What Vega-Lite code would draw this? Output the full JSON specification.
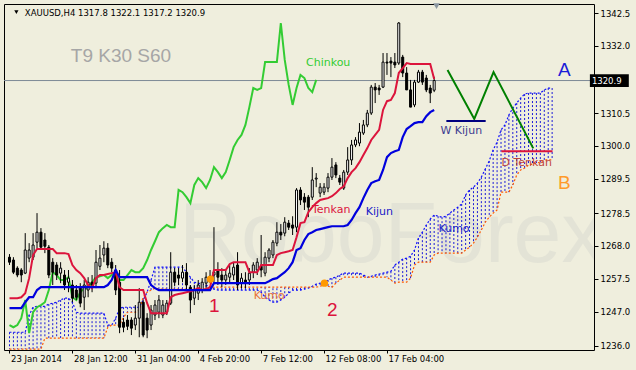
{
"$schema":"https://vega.github.io/schema/vega-lite/v6.json",
"width":590,"height":346,
"autosize":{"type":"none"},
"padding":{"left":4,"top":4,"right":42,"bottom":20},
"background":"#efeedd",
"config":{"view":{"stroke":"#000000","strokeWidth":1,"fill":"#efeedd"},"font":"DejaVu Sans","axis":{"labelOverlap":false,"labelBound":false,"labelFlush":false,"grid":false,"domain":false,"title":null}},
"datasets":{
"bars":[
{"i":0,"o":1264.4,"c":1262.8,"h":1265.4,"l":1261.9,"t":1251.3,"k":1248.1},
{"i":1,"o":1263.5,"c":1259.6,"h":1264.4,"l":1259.0,"t":1251.3,"k":1248.1},
{"i":2,"o":1260.9,"c":1258.7,"h":1261.5,"l":1258.0,"t":1251.3,"k":1248.1},
{"i":3,"o":1260.3,"c":1258.7,"h":1260.9,"l":1256.4,"t":1251.6,"k":1248.1},
{"i":4,"o":1259.3,"c":1266.7,"h":1272.1,"l":1259.0,"t":1252.9,"k":1250.0},
{"i":5,"o":1264.1,"c":1266.7,"h":1268.9,"l":1262.8,"t":1257.7,"k":1251.6},
{"i":6,"o":1264.4,"c":1268.3,"h":1272.1,"l":1263.5,"t":1265.1,"k":1251.6},
{"i":7,"o":1269.2,"c":1272.4,"h":1278.5,"l":1267.3,"t":1267.0,"k":1253.9},
{"i":8,"o":1272.4,"c":1267.6,"h":1273.7,"l":1266.7,"t":1267.0,"k":1254.8},
{"i":9,"o":1269.9,"c":1267.9,"h":1272.1,"l":1265.7,"t":1267.0,"k":1254.8},
{"i":10,"o":1267.6,"c":1258.7,"h":1268.3,"l":1257.7,"t":1267.0,"k":1254.8},
{"i":11,"o":1262.8,"c":1259.6,"h":1264.1,"l":1255.5,"t":1267.0,"k":1254.8},
{"i":12,"o":1261.9,"c":1258.7,"h":1262.8,"l":1257.1,"t":1265.7,"k":1254.8},
{"i":13,"o":1259.3,"c":1260.9,"h":1262.8,"l":1256.1,"t":1265.7,"k":1254.8},
{"i":14,"o":1258.7,"c":1255.5,"h":1260.3,"l":1253.9,"t":1265.7,"k":1254.8},
{"i":15,"o":1256.4,"c":1257.7,"h":1260.3,"l":1253.2,"t":1265.4,"k":1254.8},
{"i":16,"o":1255.5,"c":1251.3,"h":1257.1,"l":1250.0,"t":1261.9,"k":1254.8},
{"i":17,"o":1253.9,"c":1251.6,"h":1255.5,"l":1250.7,"t":1260.3,"k":1254.8},
{"i":18,"o":1254.8,"c":1249.7,"h":1256.1,"l":1248.4,"t":1259.3,"k":1254.8},
{"i":19,"o":1251.6,"c":1255.5,"h":1257.1,"l":1247.5,"t":1257.7,"k":1254.8},
{"i":20,"o":1253.9,"c":1256.4,"h":1258.0,"l":1251.6,"t":1255.5,"k":1254.8},
{"i":21,"o":1256.4,"c":1255.5,"h":1258.7,"l":1253.2,"t":1254.5,"k":1254.8},
{"i":22,"o":1256.1,"c":1262.8,"h":1266.7,"l":1254.5,"t":1257.7,"k":1254.8},
{"i":23,"o":1261.5,"c":1264.1,"h":1268.3,"l":1260.3,"t":1258.7,"k":1254.8},
{"i":24,"o":1265.1,"c":1267.3,"h":1269.5,"l":1262.8,"t":1258.7,"k":1254.8},
{"i":25,"o":1267.3,"c":1261.9,"h":1268.9,"l":1260.9,"t":1259.0,"k":1255.5},
{"i":26,"o":1262.8,"c":1260.9,"h":1264.1,"l":1259.6,"t":1259.3,"k":1257.1},
{"i":27,"o":1260.3,"c":1253.9,"h":1261.9,"l":1252.3,"t":1259.6,"k":1260.3},
{"i":28,"o":1256.4,"c":1242.0,"h":1260.3,"l":1240.1,"t":1254.8,"k":1258.0},
{"i":29,"o":1243.6,"c":1242.0,"h":1244.9,"l":1240.4,"t":1253.9,"k":1258.0},
{"i":30,"o":1244.3,"c":1242.3,"h":1245.9,"l":1241.1,"t":1253.9,"k":1258.0},
{"i":31,"o":1244.3,"c":1241.7,"h":1245.2,"l":1239.5,"t":1253.9,"k":1258.0},
{"i":32,"o":1242.7,"c":1244.9,"h":1249.1,"l":1241.1,"t":1253.9,"k":1258.0},
{"i":33,"o":1244.9,"c":1250.0,"h":1254.5,"l":1238.8,"t":1253.9,"k":1258.0},
{"i":34,"o":1250.0,"c":1239.5,"h":1250.7,"l":1238.8,"t":1253.9,"k":1258.0},
{"i":35,"o":1244.9,"c":1241.1,"h":1246.5,"l":1238.5,"t":1249.7,"k":1258.0},
{"i":36,"o":1242.7,"c":1247.5,"h":1249.1,"l":1241.1,"t":1246.5,"k":1255.5},
{"i":37,"o":1245.9,"c":1249.1,"h":1250.7,"l":1244.3,"t":1246.5,"k":1254.5},
{"i":38,"o":1246.8,"c":1250.7,"h":1252.3,"l":1244.9,"t":1246.5,"k":1253.9},
{"i":39,"o":1245.9,"c":1249.1,"h":1250.7,"l":1244.9,"t":1246.5,"k":1253.9},
{"i":40,"o":1246.8,"c":1249.7,"h":1250.7,"l":1245.9,"t":1246.5,"k":1253.9},
{"i":41,"o":1249.7,"c":1259.6,"h":1266.0,"l":1249.1,"t":1251.6,"k":1253.9},
{"i":42,"o":1259.6,"c":1256.4,"h":1260.9,"l":1255.1,"t":1252.3,"k":1253.9},
{"i":43,"o":1258.7,"c":1257.7,"h":1260.9,"l":1255.5,"t":1252.6,"k":1253.9},
{"i":44,"o":1257.7,"c":1259.6,"h":1261.9,"l":1256.4,"t":1252.9,"k":1253.9},
{"i":45,"o":1259.6,"c":1255.5,"h":1262.5,"l":1253.9,"t":1253.2,"k":1253.9},
{"i":46,"o":1254.8,"c":1250.7,"h":1255.5,"l":1246.5,"t":1253.5,"k":1253.9},
{"i":47,"o":1251.3,"c":1253.9,"h":1255.5,"l":1249.1,"t":1253.9,"k":1253.9},
{"i":48,"o":1252.9,"c":1255.5,"h":1257.1,"l":1250.7,"t":1254.5,"k":1253.9},
{"i":49,"o":1253.9,"c":1256.4,"h":1257.7,"l":1252.9,"t":1253.9,"k":1253.9},
{"i":50,"o":1256.1,"c":1258.0,"h":1259.6,"l":1254.5,"t":1254.2,"k":1253.9},
{"i":51,"o":1257.7,"c":1258.3,"h":1260.3,"l":1256.1,"t":1254.8,"k":1253.9},
{"i":52,"o":1258.7,"c":1259.6,"h":1274.0,"l":1256.4,"t":1260.3,"k":1256.1},
{"i":53,"o":1260.3,"c":1258.0,"h":1262.8,"l":1255.5,"t":1260.3,"k":1256.1},
{"i":54,"o":1258.7,"c":1257.1,"h":1260.9,"l":1254.8,"t":1260.3,"k":1256.1},
{"i":55,"o":1257.1,"c":1258.7,"h":1260.3,"l":1255.5,"t":1260.3,"k":1256.1},
{"i":56,"o":1258.0,"c":1259.3,"h":1261.9,"l":1256.4,"t":1262.2,"k":1256.1},
{"i":57,"o":1258.7,"c":1261.2,"h":1262.8,"l":1257.1,"t":1262.8,"k":1256.1},
{"i":58,"o":1261.9,"c":1255.5,"h":1266.0,"l":1253.9,"t":1262.8,"k":1256.1},
{"i":59,"o":1256.1,"c":1257.7,"h":1259.3,"l":1254.5,"t":1262.8,"k":1256.1},
{"i":60,"o":1257.1,"c":1256.1,"h":1259.6,"l":1254.5,"t":1262.8,"k":1256.1},
{"i":61,"o":1257.1,"c":1259.3,"h":1260.9,"l":1255.5,"t":1259.6,"k":1256.1},
{"i":62,"o":1259.6,"c":1261.9,"h":1262.8,"l":1257.7,"t":1259.6,"k":1256.1},
{"i":63,"o":1260.3,"c":1262.8,"h":1264.1,"l":1258.7,"t":1259.6,"k":1256.1},
{"i":64,"o":1261.5,"c":1260.3,"h":1271.5,"l":1258.0,"t":1261.9,"k":1256.1},
{"i":65,"o":1259.3,"c":1264.4,"h":1266.0,"l":1258.3,"t":1261.9,"k":1256.1},
{"i":66,"o":1264.1,"c":1266.7,"h":1267.3,"l":1262.8,"t":1261.9,"k":1256.7},
{"i":67,"o":1265.1,"c":1269.2,"h":1269.9,"l":1264.1,"t":1261.9,"k":1257.4},
{"i":68,"o":1268.9,"c":1272.4,"h":1275.6,"l":1267.9,"t":1265.1,"k":1257.7},
{"i":69,"o":1272.4,"c":1271.5,"h":1275.0,"l":1269.9,"t":1265.7,"k":1258.7},
{"i":70,"o":1272.1,"c":1275.6,"h":1277.2,"l":1271.1,"t":1266.0,"k":1259.6},
{"i":71,"o":1275.3,"c":1274.0,"h":1276.3,"l":1273.1,"t":1266.3,"k":1260.9},
{"i":72,"o":1274.7,"c":1273.7,"h":1277.5,"l":1271.5,"t":1266.7,"k":1262.8},
{"i":73,"o":1274.0,"c":1285.9,"h":1286.5,"l":1272.4,"t":1270.8,"k":1266.7},
{"i":74,"o":1285.9,"c":1282.7,"h":1286.8,"l":1281.1,"t":1275.3,"k":1267.3},
{"i":75,"o":1283.6,"c":1282.0,"h":1284.9,"l":1279.5,"t":1275.6,"k":1269.9},
{"i":76,"o":1283.6,"c":1280.4,"h":1284.3,"l":1277.2,"t":1278.8,"k":1271.8},
{"i":77,"o":1283.6,"c":1289.1,"h":1293.2,"l":1282.7,"t":1280.4,"k":1272.4},
{"i":78,"o":1289.4,"c":1289.7,"h":1291.3,"l":1286.8,"t":1281.7,"k":1273.1},
{"i":79,"o":1284.9,"c":1286.8,"h":1288.1,"l":1283.6,"t":1282.7,"k":1273.4},
{"i":80,"o":1285.2,"c":1286.8,"h":1288.1,"l":1284.3,"t":1283.0,"k":1273.7},
{"i":81,"o":1286.5,"c":1290.0,"h":1291.3,"l":1285.2,"t":1283.3,"k":1274.0},
{"i":82,"o":1290.0,"c":1293.2,"h":1296.1,"l":1289.1,"t":1283.9,"k":1274.3},
{"i":83,"o":1293.9,"c":1290.7,"h":1294.8,"l":1289.7,"t":1284.9,"k":1274.3},
{"i":84,"o":1289.7,"c":1288.4,"h":1290.7,"l":1287.5,"t":1286.2,"k":1274.3},
{"i":85,"o":1286.5,"c":1291.6,"h":1292.3,"l":1285.9,"t":1287.1,"k":1274.3},
{"i":86,"o":1291.6,"c":1295.5,"h":1299.6,"l":1290.7,"t":1289.7,"k":1274.7},
{"i":87,"o":1295.5,"c":1300.3,"h":1301.9,"l":1293.9,"t":1291.6,"k":1276.3},
{"i":88,"o":1300.3,"c":1301.9,"h":1302.8,"l":1299.6,"t":1292.9,"k":1278.5},
{"i":89,"o":1300.9,"c":1304.4,"h":1307.3,"l":1299.9,"t":1294.8,"k":1280.4},
{"i":90,"o":1304.1,"c":1306.7,"h":1308.3,"l":1303.5,"t":1297.1,"k":1283.3},
{"i":91,"o":1306.7,"c":1310.5,"h":1311.5,"l":1306.0,"t":1299.3,"k":1285.9},
{"i":92,"o":1310.5,"c":1318.8,"h":1319.5,"l":1309.9,"t":1301.9,"k":1288.1},
{"i":93,"o":1318.8,"c":1317.9,"h":1320.1,"l":1313.7,"t":1303.5,"k":1288.7},
{"i":94,"o":1318.5,"c":1317.9,"h":1319.5,"l":1316.3,"t":1305.1,"k":1289.1},
{"i":95,"o":1318.8,"c":1326.8,"h":1329.7,"l":1318.5,"t":1311.5,"k":1292.3},
{"i":96,"o":1326.8,"c":1326.5,"h":1329.7,"l":1322.7,"t":1314.3,"k":1296.4},
{"i":97,"o":1327.1,"c":1326.5,"h":1328.4,"l":1322.0,"t":1314.7,"k":1297.7},
{"i":98,"o":1326.8,"c":1325.9,"h":1329.7,"l":1324.9,"t":1316.9,"k":1298.3},
{"i":99,"o":1326.5,"c":1339.3,"h":1339.6,"l":1325.9,"t":1323.3,"k":1298.7},
{"i":100,"o":1328.4,"c":1323.3,"h":1329.1,"l":1322.0,"t":1324.9,"k":1302.8},
{"i":101,"o":1323.3,"c":1317.9,"h":1325.2,"l":1317.9,"t":1326.5,"k":1305.4},
{"i":102,"o":1317.9,"c":1312.4,"h":1321.1,"l":1312.4,"t":1326.2,"k":1306.3},
{"i":103,"o":1313.1,"c":1320.4,"h":1321.1,"l":1312.4,"t":1326.2,"k":1307.3},
{"i":104,"o":1320.4,"c":1323.6,"h":1324.3,"l":1320.1,"t":1326.2,"k":1307.6},
{"i":105,"o":1323.6,"c":1320.4,"h":1324.3,"l":1319.5,"t":1326.2,"k":1307.6},
{"i":106,"o":1321.7,"c":1317.9,"h":1322.7,"l":1317.2,"t":1326.2,"k":1309.5},
{"i":107,"o":1318.5,"c":1316.9,"h":1319.5,"l":1313.7,"t":1326.2,"k":1310.8},
{"i":108,"o":1317.8,"c":1320.9,"h":1322.1,"l":1317.2,"t":1321.4,"k":1311.5}
],
"chinkou":[
{"i":0,"v":1242.7},{"i":1,"v":1242.0},{"i":2,"v":1242.7},{"i":3,"v":1244.9},{"i":4,"v":1250.7},{"i":5,"v":1240.1},{"i":6,"v":1246.8},{"i":7,"v":1248.4},{"i":8,"v":1249.1},{"i":9,"v":1250.0},
{"i":10,"v":1253.9},{"i":11,"v":1259.6},{"i":12,"v":1258.7},{"i":13,"v":1257.1},{"i":14,"v":1257.1},{"i":15,"v":1258.0},{"i":16,"v":1251.6},{"i":17,"v":1250.7},{"i":18,"v":1253.2},{"i":19,"v":1254.5},
{"i":20,"v":1254.5},{"i":21,"v":1256.4},{"i":22,"v":1258.0},{"i":23,"v":1258.3},{"i":24,"v":1258.7},{"i":25,"v":1257.7},{"i":26,"v":1258.7},{"i":27,"v":1259.6},{"i":28,"v":1257.1},{"i":29,"v":1257.1},
{"i":30,"v":1258.7},{"i":31,"v":1260.3},{"i":32,"v":1259.6},{"i":33,"v":1259.6},{"i":34,"v":1260.9},{"i":35,"v":1263.5},{"i":36,"v":1266.7},{"i":37,"v":1269.5},{"i":38,"v":1272.4},{"i":39,"v":1273.7},
{"i":40,"v":1274.7},{"i":41,"v":1274.0},{"i":42,"v":1274.0},{"i":43,"v":1285.9},{"i":44,"v":1285.2},{"i":45,"v":1283.6},{"i":46,"v":1281.7},{"i":47,"v":1287.5},{"i":48,"v":1289.7},{"i":49,"v":1288.4},
{"i":50,"v":1286.5},{"i":51,"v":1289.1},{"i":52,"v":1293.2},{"i":53,"v":1291.6},{"i":54,"v":1289.7},{"i":55,"v":1291.6},{"i":56,"v":1295.5},{"i":57,"v":1299.6},{"i":58,"v":1301.9},{"i":59,"v":1303.5},
{"i":60,"v":1306.7},{"i":61,"v":1312.4},{"i":62,"v":1318.5},{"i":63,"v":1317.9},{"i":64,"v":1318.5},{"i":65,"v":1326.8},{"i":66,"v":1326.8},{"i":67,"v":1326.8},{"i":68,"v":1326.8},{"i":69,"v":1339.3},
{"i":70,"v":1327.5},{"i":71,"v":1319.5},{"i":72,"v":1313.1},{"i":73,"v":1318.5},{"i":74,"v":1322.7},{"i":75,"v":1321.7},{"i":76,"v":1318.5},{"i":77,"v":1317.2},{"i":78,"v":1321.1}
],
"cloud":[
{"i":0,"a":1240.4,"b":1235.0},{"i":1,"a":1240.4,"b":1235.0},{"i":2,"a":1240.4,"b":1235.0},{"i":3,"a":1240.4,"b":1235.0},{"i":4,"a":1240.4,"b":1235.0},
{"i":5,"a":1245.9,"b":1235.0},{"i":6,"a":1248.4,"b":1235.0},{"i":7,"a":1248.7,"b":1235.0},{"i":8,"a":1248.7,"b":1235.0},{"i":9,"a":1248.7,"b":1238.5},
{"i":10,"a":1249.4,"b":1238.5},{"i":11,"a":1249.7,"b":1238.5},{"i":12,"a":1250.0,"b":1238.5},{"i":13,"a":1250.7,"b":1238.5},{"i":14,"a":1251.3,"b":1238.5},
{"i":15,"a":1251.3,"b":1238.5},{"i":16,"a":1250.0,"b":1238.5},{"i":17,"a":1246.8,"b":1238.5},{"i":18,"a":1246.5,"b":1238.5},{"i":19,"a":1246.5,"b":1238.5},
{"i":20,"a":1246.5,"b":1238.5},{"i":21,"a":1246.5,"b":1238.5},{"i":22,"a":1246.5,"b":1238.5},{"i":23,"a":1246.5,"b":1238.5},{"i":24,"a":1246.5,"b":1238.5},
{"i":25,"a":1242.7,"b":1242.0},{"i":26,"a":1242.7,"b":1242.7},{"i":27,"a":1244.9,"b":1242.7},{"i":28,"a":1248.1,"b":1242.7},{"i":29,"a":1248.4,"b":1245.2},
{"i":30,"a":1248.4,"b":1246.8},{"i":31,"a":1248.4,"b":1246.8},{"i":32,"a":1248.4,"b":1246.8},{"i":33,"a":1248.4,"b":1247.5},{"i":34,"a":1250.7,"b":1251.6},
{"i":35,"a":1253.2,"b":1253.2},{"i":36,"a":1257.1,"b":1253.9},{"i":37,"a":1261.2,"b":1254.5},{"i":38,"a":1261.2,"b":1254.2},{"i":39,"a":1261.2,"b":1254.2},
{"i":40,"a":1261.2,"b":1254.2},{"i":41,"a":1261.2,"b":1254.2},{"i":42,"a":1261.2,"b":1254.2},{"i":43,"a":1261.2,"b":1254.2},{"i":44,"a":1261.2,"b":1254.2},
{"i":45,"a":1259.6,"b":1254.2},{"i":46,"a":1258.0,"b":1254.2},{"i":47,"a":1256.4,"b":1254.2},{"i":48,"a":1256.1,"b":1254.2},{"i":49,"a":1255.8,"b":1254.2},
{"i":50,"a":1255.5,"b":1254.2},{"i":51,"a":1254.8,"b":1254.8},{"i":52,"a":1254.2,"b":1254.8},{"i":53,"a":1253.9,"b":1254.8},{"i":54,"a":1253.9,"b":1254.8},
{"i":55,"a":1253.9,"b":1254.8},{"i":56,"a":1253.9,"b":1254.8},{"i":57,"a":1253.9,"b":1254.8},{"i":58,"a":1253.9,"b":1254.8},{"i":59,"a":1253.9,"b":1254.8},
{"i":60,"a":1253.9,"b":1254.8},{"i":61,"a":1253.9,"b":1254.8},{"i":62,"a":1253.9,"b":1254.8},{"i":63,"a":1253.9,"b":1254.8},{"i":64,"a":1253.2,"b":1254.8},
{"i":65,"a":1251.6,"b":1254.8},{"i":66,"a":1250.7,"b":1254.8},{"i":67,"a":1250.0,"b":1254.8},{"i":68,"a":1250.0,"b":1254.8},{"i":69,"a":1250.7,"b":1254.8},
{"i":70,"a":1251.6,"b":1254.8},{"i":71,"a":1252.9,"b":1254.8},{"i":72,"a":1253.9,"b":1254.8},{"i":73,"a":1253.9,"b":1254.8},{"i":74,"a":1253.9,"b":1254.8},
{"i":75,"a":1254.2,"b":1254.8},{"i":76,"a":1254.5,"b":1254.8},{"i":77,"a":1255.1,"b":1254.8},{"i":78,"a":1255.8,"b":1254.8},{"i":79,"a":1256.1,"b":1255.1},
{"i":80,"a":1256.1,"b":1255.5},{"i":81,"a":1257.1,"b":1255.1},{"i":82,"a":1257.7,"b":1254.8},{"i":83,"a":1258.0,"b":1256.1},{"i":84,"a":1258.7,"b":1257.1},
{"i":85,"a":1259.3,"b":1258.0},{"i":86,"a":1259.3,"b":1258.0},{"i":87,"a":1259.3,"b":1258.0},{"i":88,"a":1259.3,"b":1258.0},{"i":89,"a":1259.3,"b":1258.0},
{"i":90,"a":1258.7,"b":1258.0},{"i":91,"a":1258.0,"b":1258.0},{"i":92,"a":1258.3,"b":1258.0},{"i":93,"a":1258.7,"b":1258.0},{"i":94,"a":1259.0,"b":1258.0},
{"i":95,"a":1259.3,"b":1258.0},{"i":96,"a":1259.6,"b":1258.0},{"i":97,"a":1259.9,"b":1257.1},{"i":98,"a":1261.9,"b":1256.1},{"i":99,"a":1262.8,"b":1256.4},
{"i":100,"a":1263.8,"b":1256.4},{"i":101,"a":1264.1,"b":1256.4},{"i":102,"a":1264.7,"b":1257.7},{"i":103,"a":1266.7,"b":1261.9},{"i":104,"a":1270.5,"b":1262.8},
{"i":105,"a":1272.4,"b":1262.8},{"i":106,"a":1274.7,"b":1262.8},{"i":107,"a":1276.6,"b":1262.8},{"i":108,"a":1277.9,"b":1265.1},{"i":109,"a":1277.5,"b":1265.7},
{"i":110,"a":1277.2,"b":1265.7},{"i":111,"a":1277.5,"b":1265.7},{"i":112,"a":1278.5,"b":1265.7},{"i":113,"a":1279.5,"b":1265.7},{"i":114,"a":1280.4,"b":1265.7},
{"i":115,"a":1281.4,"b":1265.7},{"i":116,"a":1284.3,"b":1266.7},{"i":117,"a":1285.9,"b":1267.6},{"i":118,"a":1286.8,"b":1268.9},{"i":119,"a":1288.1,"b":1270.8},
{"i":120,"a":1290.0,"b":1273.1},{"i":121,"a":1292.6,"b":1275.6},{"i":122,"a":1295.2,"b":1277.2},{"i":123,"a":1298.7,"b":1278.5},{"i":124,"a":1301.2,"b":1279.5},
{"i":125,"a":1305.1,"b":1285.2},{"i":126,"a":1306.7,"b":1285.2},{"i":127,"a":1309.9,"b":1285.2},{"i":128,"a":1312.1,"b":1287.5},{"i":129,"a":1313.7,"b":1290.7},
{"i":130,"a":1315.3,"b":1292.3},{"i":131,"a":1316.6,"b":1292.9},{"i":132,"a":1316.9,"b":1293.9},{"i":133,"a":1316.9,"b":1294.2},{"i":134,"a":1316.9,"b":1294.5},
{"i":135,"a":1316.9,"b":1294.8},{"i":136,"a":1317.9,"b":1295.5},{"i":137,"a":1318.5,"b":1295.5},{"i":138,"a":1318.5,"b":1295.5}
],
"path":[{"i":111.4,"v":1324.3},{"i":118.2,"v":1308.6},{"i":123.1,"v":1323.6},{"i":133.2,"v":1299.2}],
"levels":[{"name":"W Kijun","i":111.1,"i2":121.1,"v":1308.0},{"name":"D Tenkan","i":125.1,"i2":138.1,"v":1298.3}],
"dots":[{"i":51.1,"v":1257.4},{"i":80.1,"v":1256.1}],
"tag":[{"i":147.6,"i2":157.5,"v":1322.9,"v2":1318.8,"price":1320.9}],
"markers":[{"i":1.75,"v":1342.8,"kind":"menu"},{"i":108.6,"v":1344.7,"kind":"shift"}],
"notes":[
{"i":43.1,"v":1262.8,"label":"RoboForex","ref":"watermark"},
{"i":3.9,"v":1342.5,"label":"XAUUSD,H4  1317.8 1322.1 1317.2 1320.9","ref":"header"},
{"i":15.6,"v":1328.7,"label":"T9 K30 S60","ref":"settings"},
{"i":75.4,"v":1326.5,"label":"Chinkou","ref":"Chinkou"},
{"i":76.9,"v":1279.5,"label":"Tenkan","ref":"Tenkan"},
{"i":90.6,"v":1278.8,"label":"Kijun","ref":"Kijun"},
{"i":109.1,"v":1273.4,"label":"Kumo","ref":"Senkou A"},
{"i":62.1,"v":1251.9,"label":"Kumo","ref":"Senkou B"},
{"i":109.6,"v":1304.7,"label":"W Kijun","ref":"W Kijun"},
{"i":125.1,"v":1294.5,"label":"D Tenkan","ref":"D Tenkan"},
{"i":52.1,"v":1248.7,"label":"1","ref":"signal"},
{"i":82.1,"v":1247.5,"label":"2","ref":"signal"},
{"i":141.1,"v":1324.3,"label":"A","ref":"target A"},
{"i":141.1,"v":1288.1,"label":"B","ref":"target B"}
]
},
"layer":[
{"data":{"name":"notes"},"transform":[{"filter":"datum.ref=='watermark'"}],
 "mark":{"type":"text","align":"left","baseline":"alphabetic","font":"Liberation Sans","fontSize":86,"color":"#e3e3d6","clip":true},
 "encoding":{"x":{"field":"i","type":"quantitative","title":null,"scale":{"domain":[-0.125,147.375],"nice":false,"zero":false},
   "axis":{"values":[0,16,32,48,64,80,96],"tickCount":30,"labelExpr":"datum.value==0?'23 Jan 2014':datum.value==16?'28 Jan 12:00':datum.value==32?'31 Jan 04:00':datum.value==48?'4 Feb 20:00':datum.value==64?'7 Feb 12:00':datum.value==80?'12 Feb 08:00':'17 Feb 04:00'","labelAlign":"left","labelBaseline":"top","labelOffset":1,"labelPadding":1,"tickSize":3,"tickColor":"#000000","domain":false,"grid":false,"title":null,"labelFont":"DejaVu Sans","labelFontSize":8.5,"labelColor":"#000000","labelFlush":false,"labelOverlap":false,"labelBound":false}},
  "y":{"field":"v","type":"quantitative","title":null,"scale":{"domain":[1234.72,1345.38],"nice":false,"zero":false},
   "axis":{"orient":"right","values":[1236,1247,1257.5,1268,1278.5,1289.5,1300,1310.5,1332,1342.5],"tickCount":30,"format":".1f","tickSize":4,"tickColor":"#000000","labelPadding":2,"labelFont":"DejaVu Sans","labelFontSize":8.5,"labelColor":"#000000","domain":false,"grid":false,"title":null,"labelFlush":false,"labelOverlap":false,"labelBound":false}},
  "text":{"field":"label"}}},
{"data":{"name":"cloud"},"mark":{"type":"rule","color":"#1a1ad8","strokeWidth":1,"strokeDash":[2,2],"clip":true},
 "encoding":{"x":{"field":"i","type":"quantitative","title":null},"y":{"field":"a","type":"quantitative","title":null,"axis":{"orient":"right"}},"y2":{"field":"b"}}},
{"data":{"name":"cloud"},"mark":{"type":"line","color":"#1010ff","strokeWidth":1.2,"strokeDash":[2,2],"clip":true},
 "encoding":{"x":{"field":"i","type":"quantitative","title":null},"y":{"field":"a","type":"quantitative","title":null,"axis":{"orient":"right"}}}},
{"data":{"name":"cloud"},"mark":{"type":"line","color":"#ff5a00","strokeWidth":1.2,"strokeDash":[2,2],"clip":true},
 "encoding":{"x":{"field":"i","type":"quantitative","title":null},"y":{"field":"b","type":"quantitative","title":null,"axis":{"orient":"right"}}}},
{"data":{"name":"tag"},"mark":{"type":"rule","color":"#7d8a96","strokeWidth":1},
 "encoding":{"y":{"field":"price","type":"quantitative","title":null,"axis":{"orient":"right"}}}},
{"data":{"name":"chinkou"},"mark":{"type":"line","color":"#33cc33","strokeWidth":2},
 "encoding":{"x":{"field":"i","type":"quantitative","title":null},"y":{"field":"v","type":"quantitative","title":null,"axis":{"orient":"right"}}}},
{"data":{"name":"bars"},"mark":{"type":"rule","color":"#000000","strokeWidth":1},
 "encoding":{"x":{"field":"i","type":"quantitative","title":null},"y":{"field":"l","type":"quantitative","title":null,"axis":{"orient":"right"}},"y2":{"field":"h"}}},
{"data":{"name":"bars"},"mark":{"type":"bar","width":2,"stroke":"#000000","strokeWidth":1},
 "encoding":{"x":{"field":"i","type":"quantitative","title":null},"y":{"field":"o","type":"quantitative","title":null,"axis":{"orient":"right"}},"y2":{"field":"c"},
  "fill":{"condition":{"test":"datum.c < datum.o","value":"#000000"},"value":"#ffffff"}}},
{"data":{"name":"bars"},"mark":{"type":"line","color":"#dc143c","strokeWidth":2},
 "encoding":{"x":{"field":"i","type":"quantitative","title":null},"y":{"field":"t","type":"quantitative","title":null,"axis":{"orient":"right"}}}},
{"data":{"name":"bars"},"mark":{"type":"line","color":"#0000dd","strokeWidth":2.2},
 "encoding":{"x":{"field":"i","type":"quantitative","title":null},"y":{"field":"k","type":"quantitative","title":null,"axis":{"orient":"right"}}}},
{"data":{"name":"path"},"mark":{"type":"line","color":"#008000","strokeWidth":2},
 "encoding":{"x":{"field":"i","type":"quantitative","title":null},"y":{"field":"v","type":"quantitative","title":null,"axis":{"orient":"right"}}}},
{"data":{"name":"levels"},"transform":[{"filter":"datum.name=='W Kijun'"}],"mark":{"type":"rule","color":"#000080","strokeWidth":2},
 "encoding":{"x":{"field":"i","type":"quantitative","title":null},"x2":{"field":"i2"},"y":{"field":"v","type":"quantitative","title":null,"axis":{"orient":"right"}}}},
{"data":{"name":"levels"},"transform":[{"filter":"datum.name=='D Tenkan'"}],"mark":{"type":"rule","color":"#dc143c","strokeWidth":2},
 "encoding":{"x":{"field":"i","type":"quantitative","title":null},"x2":{"field":"i2"},"y":{"field":"v","type":"quantitative","title":null,"axis":{"orient":"right"}}}},
{"data":{"name":"dots"},"mark":{"type":"point","filled":true,"color":"#ff9900","size":55,"opacity":1},
 "encoding":{"x":{"field":"i","type":"quantitative","title":null},"y":{"field":"v","type":"quantitative","title":null,"axis":{"orient":"right"}}}},
{"data":{"name":"notes"},"transform":[{"filter":"datum.ref=='header'"}],"mark":{"type":"text","align":"left","baseline":"middle","font":"DejaVu Sans","fontSize":8.5,"color":"#000000"},
 "encoding":{"x":{"field":"i","type":"quantitative","title":null},"y":{"field":"v","type":"quantitative","title":null,"axis":{"orient":"right"}},"text":{"field":"label"}}},
{"data":{"name":"notes"},"transform":[{"filter":"datum.ref=='settings'"}],"mark":{"type":"text","align":"left","baseline":"middle","font":"Liberation Sans","fontSize":19,"color":"#a6a6a6"},
 "encoding":{"x":{"field":"i","type":"quantitative","title":null},"y":{"field":"v","type":"quantitative","title":null,"axis":{"orient":"right"}},"text":{"field":"label"}}},
{"data":{"name":"notes"},"transform":[{"filter":"datum.ref=='Chinkou'"}],"mark":{"type":"text","align":"left","baseline":"middle","font":"DejaVu Sans","fontSize":11,"color":"#33cc33"},
 "encoding":{"x":{"field":"i","type":"quantitative","title":null},"y":{"field":"v","type":"quantitative","title":null,"axis":{"orient":"right"}},"text":{"field":"label"}}},
{"data":{"name":"notes"},"transform":[{"filter":"datum.ref=='Tenkan'"}],"mark":{"type":"text","align":"left","baseline":"middle","font":"DejaVu Sans","fontSize":11,"color":"#dc143c"},
 "encoding":{"x":{"field":"i","type":"quantitative","title":null},"y":{"field":"v","type":"quantitative","title":null,"axis":{"orient":"right"}},"text":{"field":"label"}}},
{"data":{"name":"notes"},"transform":[{"filter":"datum.ref=='Kijun' || datum.ref=='Senkou A'"}],"mark":{"type":"text","align":"left","baseline":"middle","font":"DejaVu Sans","fontSize":11,"color":"#2020c8"},
 "encoding":{"x":{"field":"i","type":"quantitative","title":null},"y":{"field":"v","type":"quantitative","title":null,"axis":{"orient":"right"}},"text":{"field":"label"}}},
{"data":{"name":"notes"},"transform":[{"filter":"datum.ref=='Senkou B'"}],"mark":{"type":"text","align":"left","baseline":"middle","font":"DejaVu Sans","fontSize":11,"color":"#e8743a"},
 "encoding":{"x":{"field":"i","type":"quantitative","title":null},"y":{"field":"v","type":"quantitative","title":null,"axis":{"orient":"right"}},"text":{"field":"label"}}},
{"data":{"name":"notes"},"transform":[{"filter":"datum.ref=='W Kijun'"}],"mark":{"type":"text","align":"left","baseline":"middle","font":"DejaVu Sans","fontSize":11,"color":"#3c3c90"},
 "encoding":{"x":{"field":"i","type":"quantitative","title":null},"y":{"field":"v","type":"quantitative","title":null,"axis":{"orient":"right"}},"text":{"field":"label"}}},
{"data":{"name":"notes"},"transform":[{"filter":"datum.ref=='D Tenkan'"}],"mark":{"type":"text","align":"left","baseline":"middle","font":"DejaVu Sans","fontSize":11,"color":"#c0443c"},
 "encoding":{"x":{"field":"i","type":"quantitative","title":null},"y":{"field":"v","type":"quantitative","title":null,"axis":{"orient":"right"}},"text":{"field":"label"}}},
{"data":{"name":"notes"},"transform":[{"filter":"datum.ref=='signal'"}],"mark":{"type":"text","align":"center","baseline":"middle","font":"Liberation Sans","fontSize":19,"color":"#dc143c"},
 "encoding":{"x":{"field":"i","type":"quantitative","title":null},"y":{"field":"v","type":"quantitative","title":null,"axis":{"orient":"right"}},"text":{"field":"label"}}},
{"data":{"name":"notes"},"transform":[{"filter":"datum.ref=='target A'"}],"mark":{"type":"text","align":"center","baseline":"middle","font":"Liberation Sans","fontSize":19,"color":"#1c1cd8"},
 "encoding":{"x":{"field":"i","type":"quantitative","title":null},"y":{"field":"v","type":"quantitative","title":null,"axis":{"orient":"right"}},"text":{"field":"label"}}},
{"data":{"name":"notes"},"transform":[{"filter":"datum.ref=='target B'"}],"mark":{"type":"text","align":"center","baseline":"middle","font":"Liberation Sans","fontSize":19,"color":"#ff9a2a"},
 "encoding":{"x":{"field":"i","type":"quantitative","title":null},"y":{"field":"v","type":"quantitative","title":null,"axis":{"orient":"right"}},"text":{"field":"label"}}},
{"data":{"name":"markers"},"transform":[{"filter":"datum.kind=='menu'"}],"mark":{"type":"point","shape":"triangle-down","filled":true,"color":"#000000","size":18,"opacity":1},
 "encoding":{"x":{"field":"i","type":"quantitative","title":null},"y":{"field":"v","type":"quantitative","title":null,"axis":{"orient":"right"}}}},
{"data":{"name":"markers"},"transform":[{"filter":"datum.kind=='shift'"}],"mark":{"type":"point","shape":"triangle-down","filled":true,"color":"#8a96a0","size":45,"opacity":1},
 "encoding":{"x":{"field":"i","type":"quantitative","title":null},"y":{"field":"v","type":"quantitative","title":null,"axis":{"orient":"right"}}}},
{"data":{"name":"tag"},"mark":{"type":"rect","color":"#000000","clip":false},
 "encoding":{"x":{"field":"i","type":"quantitative","title":null},"x2":{"field":"i2"},"y":{"field":"v","type":"quantitative","title":null,"axis":{"orient":"right"}},"y2":{"field":"v2"}}},
{"data":{"name":"tag"},"mark":{"type":"text","align":"left","baseline":"middle","dx":2,"font":"DejaVu Sans","fontSize":8.5,"color":"#ffffff","clip":false},
 "encoding":{"x":{"field":"i","type":"quantitative","title":null},"y":{"field":"price","type":"quantitative","title":null,"axis":{"orient":"right"}},"text":{"field":"price","format":".1f"}}}
]
}
